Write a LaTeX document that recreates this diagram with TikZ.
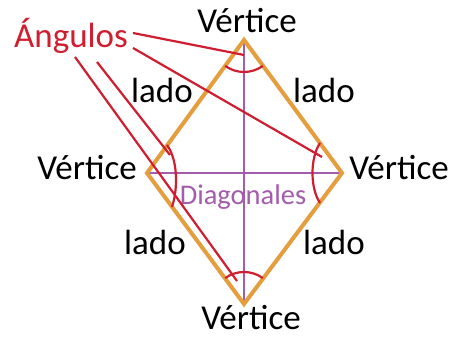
\documentclass[tikz,border=0pt]{standalone}
\usepackage{fontspec}
\setmainfont{Carlito}
\begin{document}
\begin{tikzpicture}[x=1pt,y=1pt,
  lbl/.style={anchor=base,inner sep=0pt,font=\fontsize{35}{35}\selectfont},
  dlbl/.style={anchor=base,inner sep=0pt,font=\fontsize{28.5}{28.5}\selectfont,text=diagc},
  side/.style={draw=sidec,line width=4pt,line join=miter},
  diag/.style={draw=diagc,line width=2.8pt},
  angline/.style={draw=angc,line width=2.2pt}]
\definecolor{sidec}{RGB}{228,158,62}
\definecolor{diagc}{RGB}{164,92,172}
\definecolor{angc}{RGB}{208,30,48}
\useasboundingbox (0,0) rectangle (456,339);
\fill[white] (0,0) rectangle (456,339);
% vertices
\coordinate (T) at (244,299);
\coordinate (L) at (147,166);
\coordinate (R) at (342,166);
\coordinate (B) at (244,35);
% diagonals
\draw[diag] (T) -- (B);
\draw[diag] (L) -- (R);
% sides
\draw[side] (T) -- (R) -- (B) -- (L) -- cycle;
% angle arcs
\draw[angline] (T) ++(234:32) arc[start angle=234,end angle=306,radius=32];
\draw[angline] (B) ++(54:32) arc[start angle=54,end angle=126,radius=32];
\coordinate (la1) at (167,194);
\coordinate (la2) at (172,132);
\coordinate (ra1) at (320,196);
\coordinate (ra2) at (320,136);
\draw[angline] (la1) .. controls (178,179) and (178,150) .. (la2);
\draw[angline] (ra1) .. controls (310,181) and (310,151) .. (ra2);
% labels
\node[lbl] (vT) at (247,306) {Vértice};
\node[lbl] (vL) at (87,159) {Vértice};
\node[lbl] (vR) at (399,159) {Vértice};
\node[lbl] (vB) at (251,9) {Vértice};
\node[lbl] (s1) at (162,236) {lado};
\node[lbl] (s2) at (324,236) {lado};
\node[lbl] (s3) at (155,84) {lado};
\node[lbl] (s4) at (334,84) {lado};
\node[lbl,text=angc] (ang) at (71,291) {Ángulos};
\node[dlbl] (dg) at (243,134) {Diagonales};
% pointer lines
\coordinate (a1s) at (133,306); \coordinate (a1e) at (244,284);
\coordinate (a2s) at (133,291); \coordinate (a2e) at (322,182);
\coordinate (a3s) at (75,282);  \coordinate (a3e) at (237,58);
\coordinate (a4s) at (97,277);  \coordinate (a4e) at (170,184);
\draw[angline] (a1s) -- (a1e);
\draw[angline] (a2s) -- (a2e);
\draw[angline] (a3s) -- (a3e);
\draw[angline] (a4s) -- (a4e);
\end{tikzpicture}
\end{document}
